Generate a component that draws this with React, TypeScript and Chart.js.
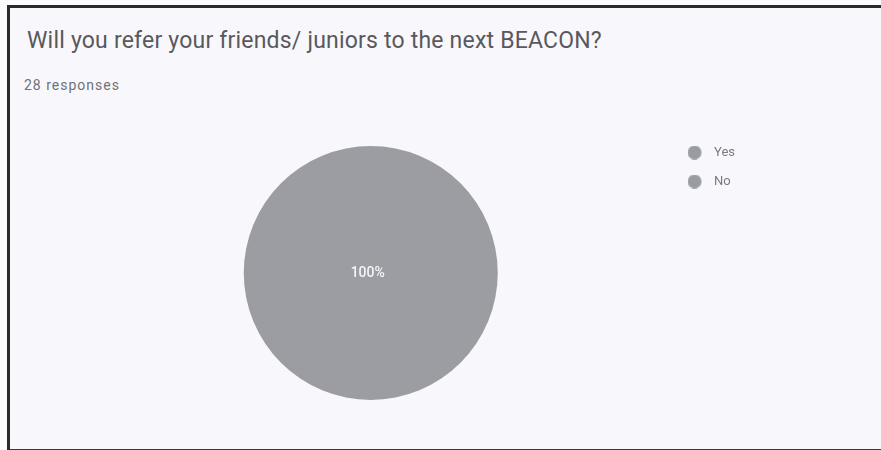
import React, { useEffect, useRef } from "react";
import { Chart, registerables } from "chart.js";

Chart.register(...registerables);

const TITLE = "Will you refer your friends/ juniors to the next BEACON?";
const SUBTITLE = "28 responses";
const LABELS = ["Yes", "No"];
const VALUES = [28, 0];
const COLORS = ["#9c9ca3", "#9c9ca3"];

const pctLabelPlugin = {
  id: "pctLabel",
  afterDatasetsDraw(chart: any) {
    const meta = chart.getDatasetMeta(0);
    const data = chart.data.datasets[0].data as number[];
    const total = data.reduce((a, b) => a + b, 0);
    const ctx = chart.ctx;
    ctx.save();
    ctx.fillStyle = "#f4f4f8";
    ctx.font = "500 14px Roboto";
    ctx.textAlign = "center";
    ctx.textBaseline = "middle";
    meta.data.forEach((arc: any, i: number) => {
      const v = data[i];
      if (!v) return;
      const frac = v / total;
      let x = arc.x;
      let y = arc.y;
      if (frac < 1) {
        const p = arc.tooltipPosition();
        x = p.x;
        y = p.y;
      }
      ctx.fillText(Math.round(frac * 100) + "%", x - 3, y);
    });
    ctx.restore();
  },
};

function makeDot(color: string) {
  const c = document.createElement("canvas");
  c.width = 20;
  c.height = 14;
  const g = c.getContext("2d")!;
  g.fillStyle = color;
  g.beginPath();
  g.arc(7, 7, 7, 0, Math.PI * 2);
  g.fill();
  return c;
}

export default function App() {
  const ref = useRef<HTMLCanvasElement>(null);
  useEffect(() => {
    if (!ref.current) return;
    const dot = makeDot("#9a9aa2");
    const chart = new Chart(ref.current, {
      type: "pie",
      data: {
        labels: LABELS,
        datasets: [
          {
            data: VALUES,
            backgroundColor: COLORS,
            borderWidth: 0,
            radius: 127,
          },
        ],
      },
      options: {
        animation: false,
        responsive: false,
        layout: { padding: { top: 130, bottom: 34, left: 70, right: 136 } },
        plugins: {
          tooltip: { enabled: false },
          legend: {
            position: "right",
            align: "start",
            labels: {
              usePointStyle: true,
              pointStyle: dot as any,
              pointStyleWidth: 20,
              boxHeight: 13,
              padding: 16,
              color: "#7a7a80",
              font: { family: "Roboto", size: 13 },
            },
          },
        },
      },
      plugins: [pctLabelPlugin],
    });
    return () => chart.destroy();
  }, []);

  return (
    <div
      style={{
        position: "fixed",
        left: 0,
        top: 0,
        width: 881,
        height: 450,
        background: "#fbfbfe",
        overflow: "hidden",
      }}
    >
      <div
        style={{
          position: "absolute",
          left: 7,
          top: 5,
          width: 900,
          height: 441,
          borderLeft: "3px solid #2a2a2e",
          borderTop: "3px solid #2a2a2e",
          borderBottom: "3px solid #3a3a3e",
          background: "#f8f8fc",
        }}
      />
      <div
        style={{
          position: "absolute",
          left: 27,
          top: 27,
          fontFamily: "Roboto",
          fontSize: 23,
          letterSpacing: 0.2,
          color: "#58585e",
          whiteSpace: "nowrap",
        }}
      >
        {TITLE}
      </div>
      <div
        style={{
          position: "absolute",
          left: 24,
          top: 77,
          fontFamily: "Roboto",
          fontSize: 14,
          letterSpacing: 1,
          color: "#707076",
          whiteSpace: "nowrap",
        }}
      >
        {SUBTITLE}
      </div>
      <canvas
        ref={ref}
        width={881}
        height={450}
        style={{ position: "absolute", left: 0, top: 0 }}
      />
    </div>
  );
}
